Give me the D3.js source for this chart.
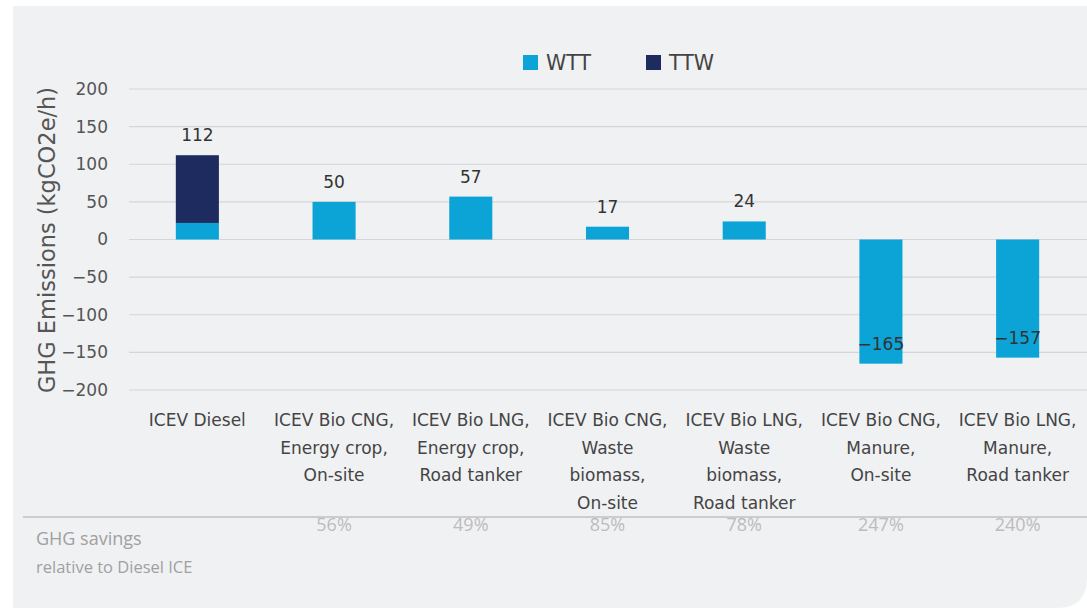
<!DOCTYPE html>
<html><head><meta charset="utf-8">
<script src="https://cdn.jsdelivr.net/npm/d3@7"></script>
<style>body{margin:0;background:#fff;} svg{display:block;}</style>
</head><body>
<svg id="chart" width="1087" height="611"></svg>
<script>
const categories = [
  ["ICEV Diesel"],
  ["ICEV Bio CNG,","Energy crop,","On-site"],
  ["ICEV Bio LNG,","Energy crop,","Road tanker"],
  ["ICEV Bio CNG,","Waste","biomass,","On-site"],
  ["ICEV Bio LNG,","Waste","biomass,","Road tanker"],
  ["ICEV Bio CNG,","Manure,","On-site"],
  ["ICEV Bio LNG,","Manure,","Road tanker"]
];
const wtt = [22, 50, 57, 17, 24, -165, -157];
const ttw = [90, 0, 0, 0, 0, 0, 0];
const totals = [112, 50, 57, 17, 24, -165, -157];
const savings = ["", "56%", "49%", "85%", "78%", "247%", "240%"];
const yTicks = [200, 150, 100, 50, 0, -50, -100, -150, -200];
const seriesNames = ["WTT", "TTW"];
const colors = {WTT: "#0ca3d7", TTW: "#1d2b5e"};

const svg = d3.select("#chart");
const font = "'DejaVu Sans', 'Noto Sans', sans-serif";
const font2 = "'Open Sans', sans-serif";

// background panel
svg.append("path")
  .attr("d", "M13,6 H1087 V578 Q1087,608 1057,608 H13 Z")
  .attr("fill", "#f0f1f3");

const x = d3.scaleBand().domain(d3.range(categories.length)).range([129, 1086]).paddingInner(0.685).paddingOuter(0.3425);
const y = d3.scaleLinear().domain([-200, 200]).range([390, 89]);

// gridlines
svg.append("g").selectAll("line").data(yTicks).join("line")
  .attr("x1", 129).attr("x2", 1087)
  .attr("y1", d => y(d)).attr("y2", d => y(d))
  .attr("stroke", "#d4d5d8").attr("stroke-width", 1.2);

// y axis labels
const yAxis = d3.axisLeft(y).tickValues(yTicks).tickSize(0).tickPadding(0)
  .tickFormat(d => d < 0 ? "\u2212" + Math.abs(d) : d);
const ya = svg.append("g").attr("transform", "translate(108,0)").call(yAxis);
ya.select(".domain").remove();
ya.selectAll("text").attr("font-family", font).attr("font-size", 17).attr("fill", "#555");

// y axis title
svg.append("text").attr("transform", "translate(55,240) rotate(-90)")
  .attr("text-anchor", "middle").attr("font-family", font).attr("font-size", 22.5)
  .attr("fill", "#555").text("GHG Emissions (kgCO2e/h)");

// bars
const stack = categories.map((c, i) => ({i, wtt: wtt[i], ttw: ttw[i]}));
svg.append("g").selectAll("rect.wtt").data(stack).join("rect")
  .attr("x", d => x(d.i)).attr("width", x.bandwidth())
  .attr("y", d => y(Math.max(0, d.wtt))).attr("height", d => Math.abs(y(d.wtt) - y(0)))
  .attr("fill", colors.WTT);
svg.append("g").selectAll("rect.ttw").data(stack.filter(d => d.ttw > 0)).join("rect")
  .attr("x", d => x(d.i)).attr("width", x.bandwidth())
  .attr("y", d => y(d.wtt + d.ttw)).attr("height", d => y(d.wtt) - y(d.wtt + d.ttw))
  .attr("fill", colors.TTW);

// value labels
svg.append("g").selectAll("text").data(totals).join("text")
  .attr("x", (d, i) => x(i) + x.bandwidth() / 2)
  .attr("y", d => y(d) - 14)
  .attr("text-anchor", "middle").attr("font-family", font).attr("font-size", 17)
  .attr("fill", "#333")
  .text(d => d < 0 ? "\u2212" + Math.abs(d) : d);

// category labels
const cg = svg.append("g");
categories.forEach((lines, i) => {
  const t = cg.append("text").attr("text-anchor", "middle")
    .attr("font-family", font).attr("font-size", 17).attr("fill", "#444");
  lines.forEach((l, j) => {
    t.append("tspan").attr("x", x(i) + x.bandwidth() / 2).attr("y", 426 + j * 27.6).text(l);
  });
});

// savings row
svg.append("line").attr("x1", 23).attr("x2", 1087).attr("y1", 517).attr("y2", 517)
  .attr("stroke", "#a8a8a8").attr("stroke-width", 1);
svg.append("g").selectAll("text").data(savings).join("text")
  .attr("x", (d, i) => x(i) + x.bandwidth() / 2).attr("y", 531)
  .attr("text-anchor", "middle").attr("font-family", font2)
  .attr("font-size", 18).attr("fill", "#bcbcbc").text(d => d);
svg.append("text").attr("x", 36).attr("y", 545).attr("font-family", font2)
  .attr("font-size", 18).attr("fill", "#a0a0a0").text("GHG savings");
svg.append("text").attr("x", 36).attr("y", 573).attr("font-family", font2)
  .attr("font-size", 16.5).attr("fill", "#a0a0a0").text("relative to Diesel ICE");

// legend
const leg = svg.append("g");
const legX = [523, 646];
seriesNames.forEach((s, i) => {
  leg.append("rect").attr("x", legX[i]).attr("y", 55).attr("width", 15).attr("height", 15).attr("fill", colors[s]);
  leg.append("text").attr("x", legX[i] + 23).attr("y", 70).attr("font-family", font)
    .attr("font-size", 20.5).attr("fill", "#444").text(s);
});
</script>
</body></html>
